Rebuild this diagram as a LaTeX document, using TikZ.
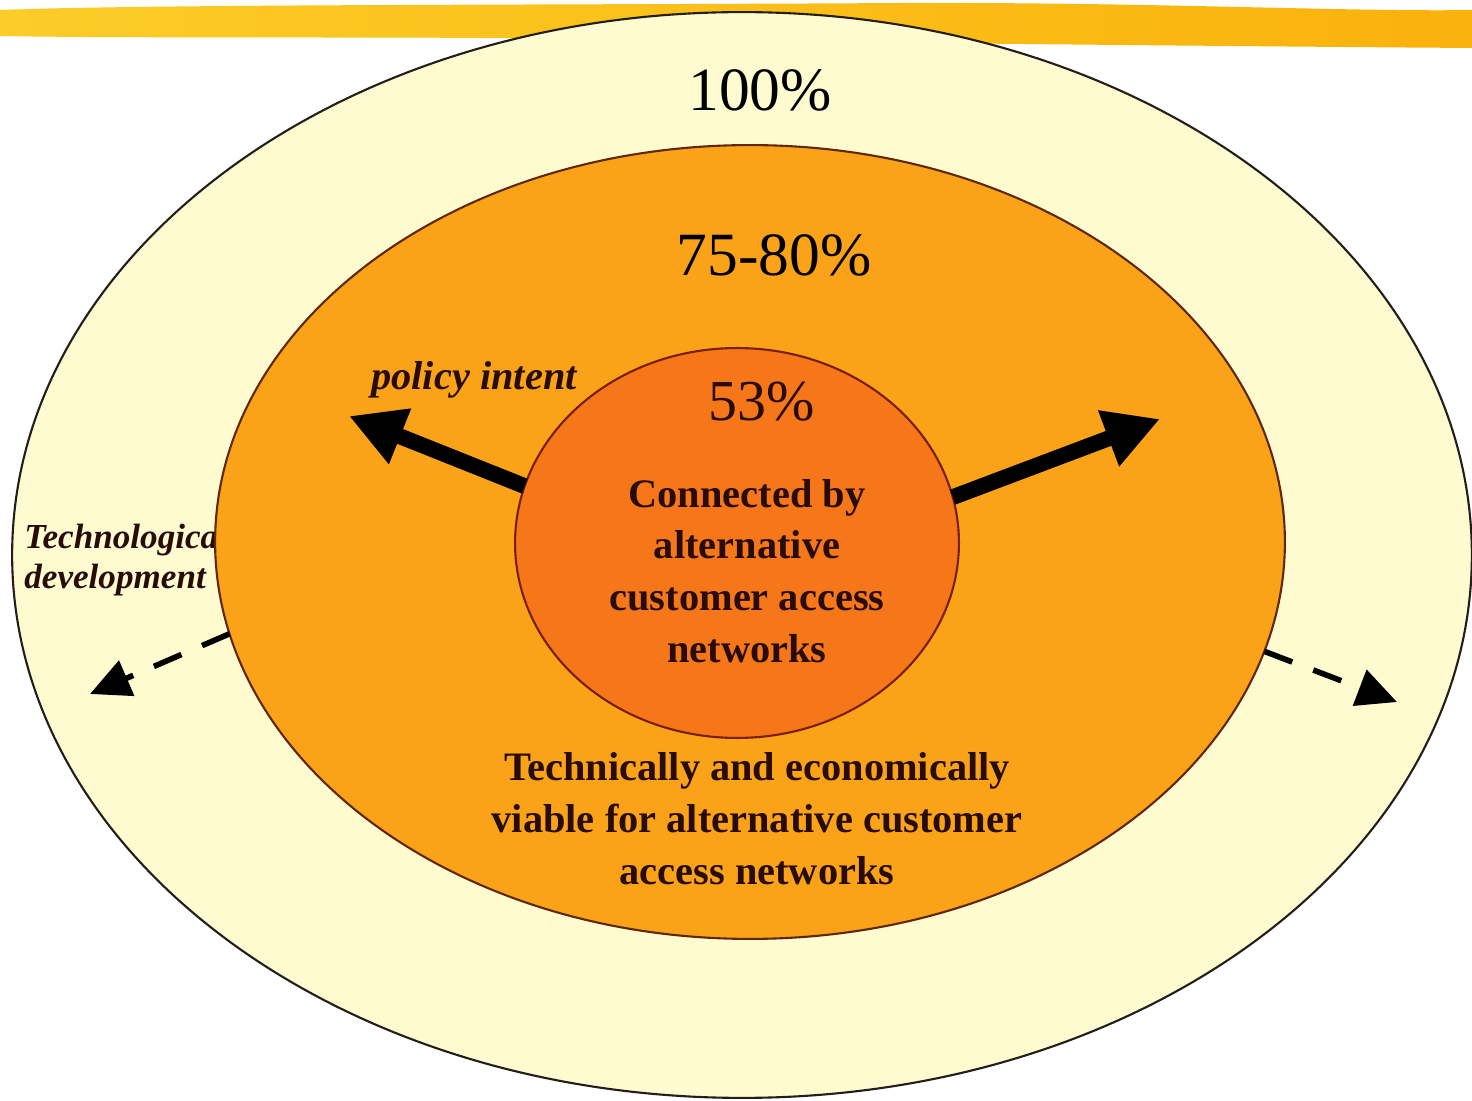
\documentclass[tikz,border=0pt]{standalone}
\usepackage{fontspec}
\setmainfont{Liberation Serif}
\usepackage{xcolor}
\definecolor{BandYellow}{RGB}{252,204,40}
\definecolor{BandOrange}{RGB}{250,178,12}
\definecolor{FillCream}{RGB}{255,251,208}
\definecolor{FillOrange}{RGB}{251,163,24}
\definecolor{FillRust}{RGB}{246,118,26}
\definecolor{BorderDark}{RGB}{35,30,25}
\definecolor{BorderBrown}{RGB}{95,40,10}
\definecolor{BorderRust}{RGB}{120,30,10}
\definecolor{InkDark}{RGB}{40,12,10}
\usepackage{tikz}
\usetikzlibrary{
  shapes, shapes.geometric,
  arrows, arrows.meta,
  positioning, calc
}
\tikzset{
  % Nested market zones
  zone/.style={
    ellipse, draw=BorderDark, line width=1.2pt,
    inner sep=0pt, outer sep=0pt
  },
  zone outer/.style={zone, fill=FillCream,
    minimum width=29.2cm, minimum height=21.72cm},
  zone mid/.style={zone, fill=FillOrange, draw=BorderBrown,
    minimum width=21.4cm, minimum height=15.88cm},
  zone inner/.style={zone, fill=FillRust, draw=BorderRust,
    minimum width=8.88cm, minimum height=7.8cm},
  % Share labels
  pct/.style={font=\fontsize{35}{40}\selectfont, inner sep=0pt, text=black},
  % Zone descriptions
  body/.style={
    font=\fontsize{23}{29.5}\selectfont\bfseries,
    align=center, inner sep=0pt, text=InkDark
  },
  % Driver labels
  driver/.style={font=\bfseries\itshape, inner sep=0pt, text=InkDark},
  % Arrows
  arr/.style={-{Triangle[length=1.1cm,width=1.12cm]}, line width=9pt, black},
  darr/.style={-{Triangle[length=0.8cm,width=0.75cm]}, line width=3.2pt, black,
    dash pattern=on 0.6cm off 0.45cm},
}

\begin{document}
\begin{tikzpicture}[x=0.02cm, y=-0.02cm]

  \useasboundingbox (0,0) rectangle (1472,1101);
  \fill[white] (0,0) rectangle (1472,1101);

  %% Brush band along the top
  \shade[left color=BandYellow, right color=BandOrange]
    (0,10) .. controls (150,4) and (600,5) .. (900,3)
    .. controls (1150,2) and (1350,12) .. (1472,10)
    -- (1472,48) .. controls (1200,46) and (800,42) .. (500,38)
    .. controls (300,37) and (100,38) .. (0,36) -- cycle;

  %% Zones
  \node[zone outer] (outer) at (742,555) {};

  \node[driver, font=\fontsize{20}{22.7}\selectfont\bfseries\itshape,
        anchor=west, align=left] (techdev) at (24,560)
    {Technological\\development};

  \node[zone mid]   (mid)   at (750,542) {};
  \node[zone inner] (inner) at (737,543) {};

  %% Labels
  \node[pct] (p100) at (760,90)  {100\%};
  \node[pct] (p75)  at (774,255) {75-80\%};
  \node[pct, font=\fontsize{33}{38}\selectfont, text=InkDark]
    (p53) at (762,402) {53\%};

  \node[driver, font=\fontsize{23}{27}\selectfont\bfseries\itshape]
    (policy) at (474,380) {policy intent};

  \node[body] (connected) at (747,571)
    {Connected by\\alternative\\customer access\\networks};

  \node[body] (viable) at (757,819)
    {Technically and economically\\viable for alternative customer\\access networks};

  %% Arrows
  \coordinate (policytip) at (349,416);
  \coordinate (growtip)   at (1160,419);
  \coordinate (techleft)  at (90,694);
  \coordinate (techright) at (1397,702);

  \draw[arr]  (inner.165) -- (policytip);
  \draw[arr]  (inner.12)  -- (growtip);
  \draw[darr] (mid.190)   -- (techleft);
  \draw[darr] (mid.-12)   -- (techright);

\end{tikzpicture}
\end{document}
